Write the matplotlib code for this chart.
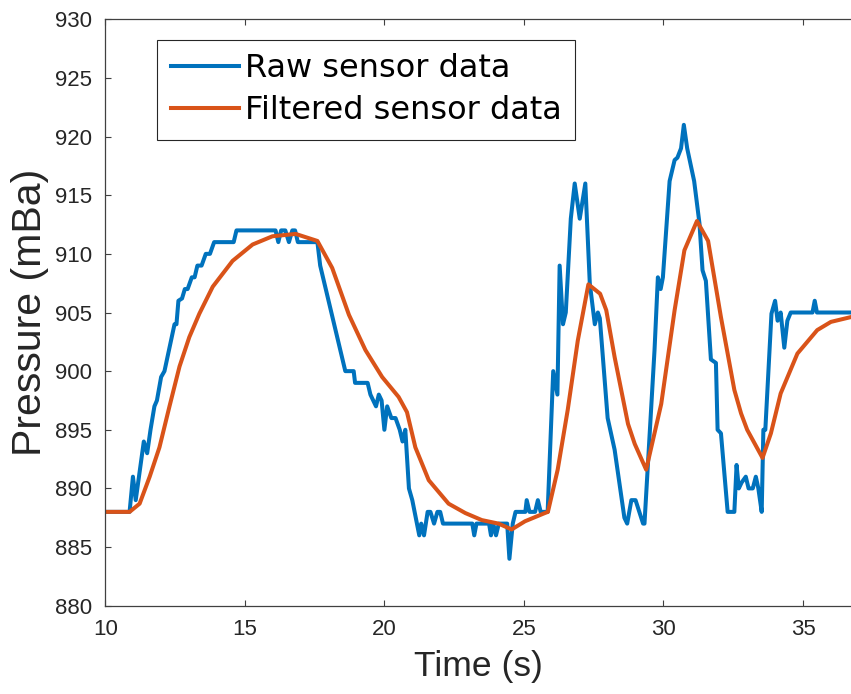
import matplotlib
matplotlib.use("Agg")
import matplotlib.pyplot as plt

plt.rcParams['font.family'] = ['Liberation Sans', 'DejaVu Sans']

raw_t = [10.0, 10.87, 10.99, 11.09, 11.38, 11.5, 11.62, 11.76, 11.85, 12.0, 12.12, 12.48, 12.55,
         12.62, 12.75, 12.85, 12.95, 13.1, 13.2, 13.3, 13.45, 13.6, 13.75, 13.9, 14.6, 14.7, 16.1,
         16.2, 16.3, 16.45, 16.58, 16.7, 16.8, 16.9, 17.6, 17.7, 18.6, 18.9, 18.95, 19.4, 19.5,
         19.7, 19.8, 19.9, 20.0, 20.1, 20.25, 20.4, 20.55, 20.65, 20.75, 20.88, 21.0, 21.25, 21.32,
         21.42, 21.55, 21.65, 21.78, 21.9, 22.0, 22.1, 23.15, 23.22, 23.3, 23.75, 23.82, 23.9,
         24.0, 24.1, 24.4, 24.48, 24.6, 24.7, 25.05, 25.1, 25.2, 25.4, 25.5, 25.6, 25.85, 26.05,
         26.2, 26.28, 26.4, 26.5, 26.68, 26.82, 27.0, 27.2, 27.36, 27.54, 27.65, 27.72, 28.0,
         28.25, 28.6, 28.7, 28.85, 29.0, 29.27, 29.32, 29.68, 29.8, 29.9, 29.98, 30.22, 30.4,
         30.5, 30.63, 30.73, 30.85, 31.1, 31.29, 31.4, 31.52, 31.7, 31.88, 31.94, 32.06, 32.3,
         32.54, 32.62, 32.7, 32.8, 32.95, 33.05, 33.2, 33.31, 33.4, 33.52, 33.58, 33.65, 33.87,
         34.0, 34.09, 34.2, 34.33, 34.44, 34.56, 35.34, 35.42, 35.5, 36.7]
raw_p = [888, 888, 891, 889, 894, 893, 895, 897, 897.5, 899.5, 900, 904, 904,
         906, 906.2, 907, 907, 908, 908, 909, 909, 910, 910, 911, 911, 912, 912,
         911, 912, 912, 911, 912, 912, 911, 911, 909, 900, 900, 899, 899, 898,
         897, 898, 897.5, 895, 897, 896, 896, 895, 894, 895, 890, 889, 886, 887,
         886, 888, 888, 887, 888, 888, 887, 887, 886, 887, 887, 886, 887,
         886, 887, 887, 884, 887, 888, 888, 889, 888, 888, 889, 888, 888, 900,
         898, 909, 904, 905, 913, 916, 913, 916, 907.5, 904, 905, 904.5, 896,
         893.3, 887.5, 887, 889, 889, 887, 887, 901.8, 908, 907, 908, 916.2, 918,
         918.2, 919, 921, 919, 916.2, 912.6, 908.6, 907.7, 901, 900.7, 895, 894.7, 888,
         888, 892, 890, 890.5, 891, 890, 890, 891, 890, 888, 895, 895, 904.9,
         906, 904.3, 905, 902, 904.3, 905, 905, 906, 905, 905]

filt_t = [10.0, 10.87, 11.23, 11.59, 11.94, 12.3, 12.66, 13.01, 13.37, 13.85, 14.56, 15.28, 15.99,
          16.82, 17.6, 18.13, 18.73, 19.32, 19.92, 20.51, 20.81, 21.11, 21.59, 22.3, 22.9, 23.49,
          24.09, 24.56, 25.04, 25.75, 25.86, 26.21, 26.57, 26.93, 27.31, 27.73, 27.95, 28.25,
          28.73, 28.97, 29.38, 29.92, 30.4, 30.75, 31.2, 31.6, 32.06, 32.54, 32.78, 33.0, 33.55,
          33.85, 34.2, 34.8, 35.51, 36.0, 36.7]
filt_p = [888, 888, 888.7, 891, 893.5, 897, 900.4, 902.9, 904.9, 907.2, 909.4, 910.8, 911.5,
          911.7, 911.1, 908.8, 904.8, 901.8, 899.5, 897.8, 896.5, 893.5, 890.7, 888.7, 887.9, 887.3,
          887.0, 886.5, 887.2, 887.9, 888, 891.6, 896.7, 902.6, 907.4, 906.6, 905.2, 901.2,
          895.5, 893.8, 891.6, 897.2, 905.2, 910.3, 912.8, 911.1, 904.6, 898.4, 896.4, 895, 892.6,
          894.7, 898.1, 901.5, 903.5, 904.2, 904.6]

labels = ['Raw sensor data', 'Filtered sensor data']
x_ticks = [10, 15, 20, 25, 30, 35]
y_ticks = [880, 885, 890, 895, 900, 905, 910, 915, 920, 925, 930]

W, H = 851, 694
fig = plt.figure(figsize=(W / 100, H / 100), dpi=100)
ax = fig.add_axes([105.3 / W, 1 - 605.7 / H, 1 - 105.3 / W, (605.7 - 19.3) / H])

ax.plot(raw_t, raw_p, color='#0072BD', lw=2.9, label=labels[0], solid_joinstyle='round')
ax.plot(filt_t, filt_p, color='#D95319', lw=2.9, label=labels[1], solid_joinstyle='round')

ax.set_xlim(10, 36.72)
ax.set_ylim(880, 930)
ax.set_xticks(x_ticks)
ax.set_yticks(y_ticks)
ax.tick_params(direction='in', length=4.5, width=0.8, color='#404040', labelcolor='#262626',
               labelsize=16, top=True, right=False, pad=9.5)
for s in ['left', 'bottom', 'top']:
    ax.spines[s].set_color('#404040')
    ax.spines[s].set_linewidth(0.9)
ax.spines['right'].set_visible(False)

ax.set_xlabel('Time (s)', fontsize=25.5, color='#262626', labelpad=7)
ax.set_ylabel('Pressure (mBa)', fontsize=29.5, color='#262626', labelpad=4)

leg = ax.legend(loc='upper left', bbox_to_anchor=(0.0697, 0.9647), borderaxespad=0,
                prop={'family': 'DejaVu Sans', 'size': 23},
                handlelength=2.13, handletextpad=0.2, borderpad=0.42,
                labelspacing=0.34, fancybox=False, framealpha=1)
leg.get_frame().set_edgecolor('#262626')
leg.get_frame().set_linewidth(0.8)

fig.savefig('out.png', dpi=100)
